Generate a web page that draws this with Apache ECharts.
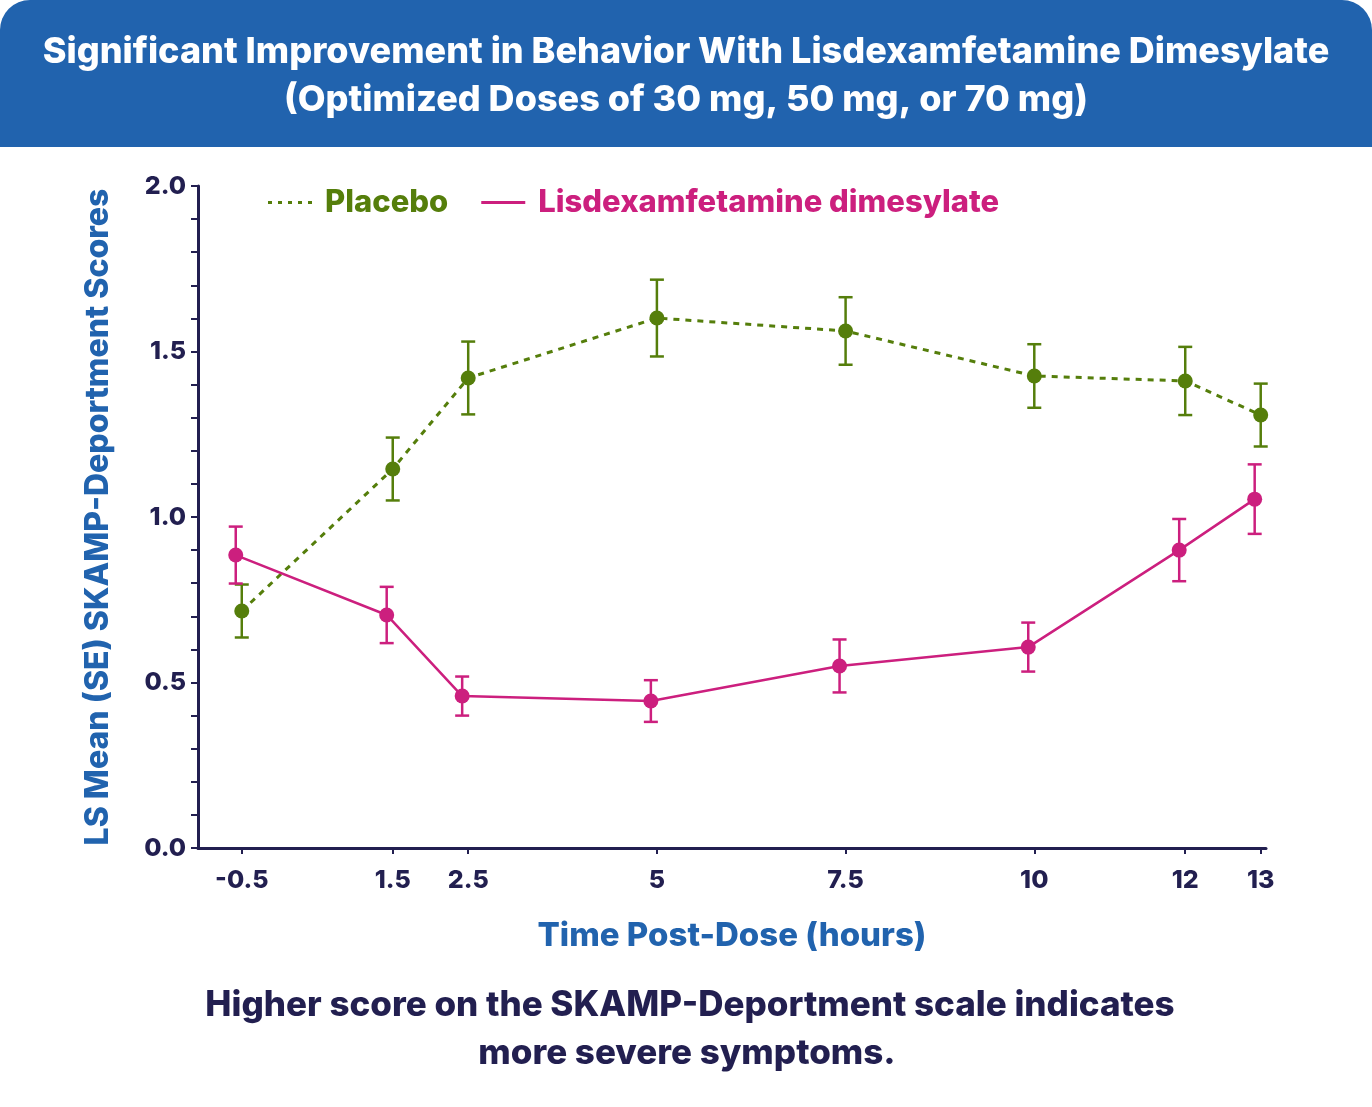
<!DOCTYPE html>
<html>
<head>
<meta charset="utf-8">
<script src="https://cdn.jsdelivr.net/npm/echarts@6/dist/echarts.min.js"></script>
<style>
  html, body { margin: 0; padding: 0; background: #fff; }
  #chart { width: 1372px; height: 1107px; }
</style>
</head>
<body>
<div id="chart"></div>
<script>
// Time points (hours post-dose)
const TIMES = [-0.5, 1.5, 2.5, 5, 7.5, 10, 12, 13];
const X_TICKS = [-0.5, 1.5, 2.5, 5, 7.5, 10, 12, 13];

// LS mean and SE
const PLACEBO_MEAN = [0.716, 1.145, 1.420, 1.601, 1.562, 1.426, 1.411, 1.308];
const PLACEBO_SE = [0.080, 0.095, 0.110, 0.116, 0.102, 0.096, 0.103, 0.095];
const LDX_MEAN = [0.885, 0.704, 0.459, 0.444, 0.550, 0.607, 0.900, 1.054];
const LDX_SE = [0.086, 0.085, 0.059, 0.063, 0.080, 0.074, 0.094, 0.105];

// LDX markers are nudged slightly left so the bars don't overlap
const LDX_NUDGE = -0.08;

const GREEN = '#557e0b';
const MAGENTA = '#cc1f7e';
const BLUE = '#2163ae';
const NAVY = '#221f50';
const FONT = 'Inter, "Noto Sans", sans-serif';

const chart = echarts.init(document.getElementById('chart'));

function errorBars(xs, means, ses, color) {
  return {
    type: 'custom',
    z: 1,
    silent: true,
    data: xs.map((x, i) => [x, means[i] - ses[i], means[i] + ses[i]]),
    renderItem: (params, api) => {
      const top = api.coord([api.value(0), api.value(2)]);
      const bot = api.coord([api.value(0), api.value(1)]);
      const half = 7;
      const style = { stroke: color, lineWidth: 2.5 };
      return {
        type: 'group',
        children: [
          { type: 'line', shape: { x1: top[0], y1: top[1], x2: bot[0], y2: bot[1] }, style },
          { type: 'line', shape: { x1: top[0] - half, y1: top[1], x2: top[0] + half, y2: top[1] }, style },
          { type: 'line', shape: { x1: bot[0] - half, y1: bot[1], x2: bot[0] + half, y2: bot[1] }, style }
        ]
      };
    }
  };
}

const ldxTimes = TIMES.map(t => t + LDX_NUDGE);

const option = {
  backgroundColor: '#fff',
  animation: false,
  textStyle: { fontFamily: FONT },
  graphic: [
    {
      type: 'rect',
      shape: { x: 0, y: 0, width: 1372, height: 147, r: [30, 30, 0, 0] },
      style: { fill: BLUE },
      z: -1
    },
    {
      type: 'text',
      style: {
        x: 686, y: 52, text: 'Significant Improvement in Behavior With Lisdexamfetamine Dimesylate',
        fill: '#fff', font: '800 36px ' + FONT, textAlign: 'center', textVerticalAlign: 'middle'
      }
    },
    {
      type: 'text',
      style: {
        x: 686, y: 100, text: '(Optimized Doses of 30 mg, 50 mg, or 70 mg)',
        fill: '#fff', font: '800 36px ' + FONT, textAlign: 'center', textVerticalAlign: 'middle'
      }
    },
    {
      type: 'text',
      style: {
        x: 690, y: 1005, text: 'Higher score on the SKAMP-Deportment scale indicates',
        fill: NAVY, font: '800 35px ' + FONT, textAlign: 'center', textVerticalAlign: 'middle'
      }
    },
    {
      type: 'text',
      style: {
        x: 687, y: 1053, text: 'more severe symptoms.',
        fill: NAVY, font: '800 35px ' + FONT, textAlign: 'center', textVerticalAlign: 'middle'
      }
    }
  ],
  legend: {
    left: 263,
    top: 182,
    itemGap: 33,
    itemWidth: 44,
    itemHeight: 3,
    selectedMode: false,
    data: [
      {
        name: 'Placebo',
        icon: 'path://M0,0h4v3h-4z M10,0h4v3h-4z M20,0h4v3h-4z M30,0h4v3h-4z M40,0h4v3h-4z',
        itemStyle: { color: GREEN },
        textStyle: { color: GREEN, fontSize: 31, fontWeight: 800, padding: [0, 0, 0, 8] }
      },
      {
        name: 'Lisdexamfetamine dimesylate',
        icon: 'path://M0,0h44v3h-44z',
        itemStyle: { color: MAGENTA },
        textStyle: { color: MAGENTA, fontSize: 31, fontWeight: 800, padding: [0, 0, 0, 8] }
      }
    ]
  },
  grid: { left: 198, right: 106, top: 186, bottom: 259 },
  xAxis: {
    type: 'value',
    min: -1.08,
    max: 13.07,
    name: 'Time Post-Dose (hours)',
    nameLocation: 'middle',
    nameGap: 72,
    nameTextStyle: { color: BLUE, fontSize: 33, fontWeight: 800, fontFamily: FONT },
    axisLine: { lineStyle: { color: NAVY, width: 3 } },
    axisTick: { show: true, customValues: X_TICKS, length: 6, lineStyle: { color: NAVY, width: 2 } },
    axisLabel: {
      customValues: X_TICKS, color: NAVY, fontSize: 25, fontWeight: 800, margin: 20,
      formatter: v => String(v)
    },
    splitLine: { show: false }
  },
  yAxis: {
    type: 'value',
    min: 0,
    max: 2,
    interval: 0.5,
    name: 'LS Mean (SE) SKAMP-Deportment Scores',
    nameLocation: 'middle',
    nameRotate: 90,
    nameGap: 84,
    nameTextStyle: { color: BLUE, fontSize: 32, fontWeight: 800, fontFamily: FONT },
    axisLine: { show: true, onZero: false, lineStyle: { color: NAVY, width: 3 } },
    axisTick: { show: true, length: 7, lineStyle: { color: NAVY, width: 2 } },
    minorTick: { show: true, splitNumber: 5, length: 7, lineStyle: { color: NAVY, width: 2 } },
    axisLabel: {
      color: NAVY, fontSize: 25, fontWeight: 800, margin: 12,
      formatter: v => v.toFixed(1)
    },
    splitLine: { show: false }
  },
  series: [
    errorBars(TIMES, PLACEBO_MEAN, PLACEBO_SE, GREEN),
    errorBars(ldxTimes, LDX_MEAN, LDX_SE, MAGENTA),
    {
      name: 'Placebo',
      type: 'line',
      z: 3,
      data: TIMES.map((t, i) => [t, PLACEBO_MEAN[i]]),
      symbol: 'circle',
      symbolSize: 15,
      itemStyle: { color: GREEN },
      lineStyle: { color: GREEN, width: 3, type: [6, 6] }
    },
    {
      name: 'Lisdexamfetamine dimesylate',
      type: 'line',
      z: 3,
      data: ldxTimes.map((t, i) => [t, LDX_MEAN[i]]),
      symbol: 'circle',
      symbolSize: 15,
      itemStyle: { color: MAGENTA },
      lineStyle: { color: MAGENTA, width: 2.5 }
    }
  ]
};

chart.setOption(option);
window.addEventListener('resize', () => chart.resize());
</script>
</body>
</html>
